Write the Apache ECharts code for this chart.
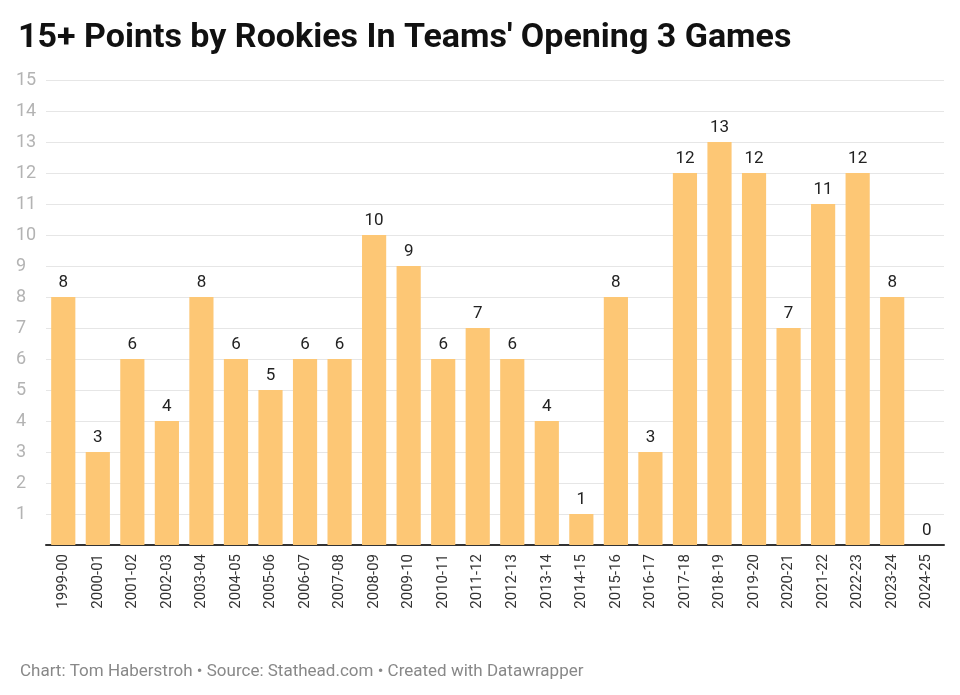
<!DOCTYPE html>
<html><head><meta charset="utf-8">
<script src="https://cdn.jsdelivr.net/npm/echarts@6/dist/echarts.min.js"></script>
<style>html,body{margin:0;padding:0;background:#fff}#c{width:960px;height:695px}</style>
</head><body><div id="c"></div>
<script>
const categories = ["1999-00","2000-01","2001-02","2002-03","2003-04","2004-05","2005-06","2006-07","2007-08","2008-09","2009-10","2010-11","2011-12","2012-13","2013-14","2014-15","2015-16","2016-17","2017-18","2018-19","2019-20","2020-21","2021-22","2022-23","2023-24","2024-25"];
const values = [8,3,6,4,8,6,5,6,6,10,9,6,7,6,4,1,8,3,12,13,12,7,11,12,8,0];
const yTicks = [1,2,3,4,5,6,7,8,9,10,11,12,13,14,15];
const titleText = "15+ Points by Rookies In Teams' Opening 3 Games";
const footerText = "Chart: Tom Haberstroh • Source: Stathead.com • Created with Datawrapper";

const chart = echarts.init(document.getElementById('c'), null, {renderer:'canvas'});
chart.setOption({
  animation:false,
  backgroundColor:'#fff',
  textStyle:{fontFamily:'Roboto'},
  title:[
    {text:titleText,left:13,top:16,textStyle:{fontFamily:'Roboto',fontWeight:'bold',fontSize:34,color:'#111'}},
    {text:footerText,left:15,top:658,textStyle:{fontFamily:'Roboto',fontWeight:'normal',fontSize:17,color:'#888'}}
  ],
  grid:{left:46,right:16,top:80,bottom:150,containLabel:false},
  xAxis:{
    type:'category',data:categories,
    axisLine:{show:true,lineStyle:{color:'#333',width:2}},
    axisTick:{show:false},
    axisLabel:{rotate:90,interval:0,fontSize:15,color:'#333',margin:9,fontFamily:'Roboto'}
  },
  yAxis:{
    type:'value',min:0,max:15,interval:1,
    axisLine:{show:false},axisTick:{show:false},
    splitLine:{lineStyle:{color:'#e6e6e6',width:1}},
    axisLabel:{
      fontSize:18,color:'#b3b3b3',align:'left',margin:30,fontFamily:'Roboto',
      formatter:v=>yTicks.includes(v)?String(v):''
    }
  },
  series:[{
    type:'bar',data:values,barCategoryGap:'30%',
    itemStyle:{color:'#fdc775'},
    label:{show:true,position:'top',distance:6,fontSize:17,color:'#222',fontFamily:'Roboto'}
  }]
});
</script></body></html>
